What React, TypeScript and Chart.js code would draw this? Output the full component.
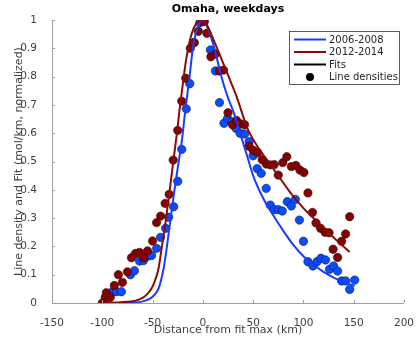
import React, { useEffect, useRef } from 'react';
import { Chart, registerables } from 'chart.js';
Chart.register(...registerables);

const chartTitle = 'Omaha, weekdays';
const xTitle = 'Distance from fit max (km)';
const yTitle = 'Line density and Fit (mol/km, normalized)';
const legendLabels = ['2006-2008', '2012-2014', 'Fits', 'Line densities'];

const xTicks = [-150, -100, -50, 0, 50, 100, 150, 200];
const xTickLabels = ['-150', '-100', '-50', '0', '50', '100', '150', '200'];
const yTicks = [0, 0.1, 0.2, 0.3, 0.4, 0.5, 0.6, 0.7, 0.8, 0.9, 1];
const yTickLabels = ['0', '0.1', '0.2', '0.3', '0.4', '0.5', '0.6', '0.7', '0.8', '0.9', '1'];

// 2006-2008 line densities
const blueX = [-96, -90, -86, -81, -72, -68, -63, -59, -55, -51, -46, -42, -37, -34, -29, -25, -21, -16.5, -13, -9, -3, 0, 7.5, 12.5, 16.5, 21, 24.5, 29, 33, 37, 41.5, 46, 50, 54, 58, 63, 67, 71, 75, 79, 84, 88, 92, 96, 100, 104.5, 109.5, 113.5, 117.5, 122, 126, 130, 134, 138, 142, 146, 151];
const blueY = [0, 0.04, 0.04, 0.04, 0.1, 0.114, 0.148, 0.15, 0.165, 0.168, 0.193, 0.232, 0.264, 0.303, 0.34, 0.43, 0.543, 0.686, 0.775, 0.92, 0.99, 1.0, 0.894, 0.82, 0.708, 0.635, 0.652, 0.64, 0.617, 0.6, 0.597, 0.57, 0.52, 0.475, 0.458, 0.405, 0.346, 0.33, 0.33, 0.325, 0.358, 0.343, 0.366, 0.293, 0.218, 0.146, 0.131, 0.146, 0.158, 0.152, 0.119, 0.131, 0.113, 0.078, 0.078, 0.048, 0.081];

// 2012-2014 line densities
const redX = [-100, -97, -96, -92, -88, -84, -80, -75, -71, -67, -63, -59, -55, -50, -46, -42, -37.5, -33.5, -29.5, -25, -21, -17, -12.5, -8.5, -4.5, -1, 1.5, 4, 8, 12.5, 16.5, 20.5, 25, 29.5, 33.5, 37.5, 41.5, 46, 50, 54.5, 59, 63, 67, 71, 75, 79.5, 83.5, 88, 92.5, 96.5, 100.5, 104.5, 109, 112.5, 117, 121.5, 125.5, 129.5, 134, 138, 142, 146];
const redY = [0, 0.02, 0.036, 0.02, 0.062, 0.1, 0.073, 0.11, 0.16, 0.175, 0.179, 0.16, 0.184, 0.219, 0.284, 0.307, 0.352, 0.384, 0.505, 0.61, 0.713, 0.794, 0.9, 0.92, 0.96, 0.995, 0.995, 0.953, 0.87, 0.88, 0.82, 0.823, 0.672, 0.63, 0.645, 0.633, 0.63, 0.554, 0.54, 0.532, 0.506, 0.491, 0.488, 0.489, 0.452, 0.496, 0.517, 0.482, 0.486, 0.47, 0.461, 0.389, 0.32, 0.283, 0.264, 0.25, 0.248, 0.19, 0.161, 0.218, 0.244, 0.305];

// Fits
const blueFitX = [-96, -80, -70, -62, -56, -50, -44, -39, -36, -32.5, -28, -24.5, -21, -18, -13, -10, -6.5, -3, 0, 5, 11.5, 18, 24.5, 31, 37, 44, 50, 60, 70, 80, 90, 100, 110, 120, 130, 140, 151];
const blueFitY = [0, 0, 0.001, 0.004, 0.01, 0.022, 0.052, 0.123, 0.193, 0.287, 0.405, 0.488, 0.57, 0.664, 0.806, 0.9, 0.96, 0.99, 1.0, 0.97, 0.9, 0.806, 0.73, 0.67, 0.6, 0.52, 0.45, 0.37, 0.31, 0.255, 0.205, 0.165, 0.135, 0.11, 0.09, 0.075, 0.06];
const redFitX = [-100, -85, -75, -67, -60, -55, -50.5, -47, -44, -41, -37, -32.7, -29.4, -26, -23, -19.6, -16.4, -11.5, -6.5, -2, 3, 11.5, 19.6, 27.7, 34, 44, 54, 67, 77, 87, 100, 110, 126, 146];
const redFitY = [0.001, 0.002, 0.004, 0.008, 0.018, 0.032, 0.055, 0.085, 0.123, 0.193, 0.287, 0.405, 0.5, 0.594, 0.688, 0.782, 0.865, 0.947, 0.988, 1.0, 0.988, 0.923, 0.853, 0.782, 0.725, 0.62, 0.555, 0.49, 0.44, 0.39, 0.335, 0.3, 0.245, 0.18];

const BLUE_LINE = '#1a3cff';
const BLUE_DOT = '#0a4cff';
const RED_LINE = '#8b0a0a';
const RED_DOT = '#870000';
const AXIS = '#a0a0a0';
const TEXT = '#404040';
const FONT = '"DejaVu Sans", sans-serif';

const pts = (xs: number[], ys: number[]) => xs.map((x, i) => ({ x, y: ys[i] }));

const decor = {
  id: 'decor',
  afterDraw(chart: any) {
    const { ctx, chartArea: ca, scales } = chart;
    const xs = scales.x;
    const ys = scales.y;
    ctx.save();
    // inward ticks
    ctx.strokeStyle = AXIS;
    ctx.lineWidth = 1;
    xTicks.forEach((v) => {
      const px = Math.round(xs.getPixelForValue(v)) + 0.5;
      ctx.beginPath();
      ctx.moveTo(px, ca.bottom);
      ctx.lineTo(px, ca.bottom - 3);
      ctx.stroke();
    });
    yTicks.forEach((v) => {
      const py = Math.round(ys.getPixelForValue(v)) + 0.5;
      ctx.beginPath();
      ctx.moveTo(ca.left, py);
      ctx.lineTo(ca.left + 3, py);
      ctx.stroke();
    });
    // title
    ctx.fillStyle = '#000';
    ctx.font = 'bold 11px ' + FONT;
    ctx.textAlign = 'center';
    ctx.textBaseline = 'middle';
    ctx.fillText(chartTitle, (ca.left + ca.right) / 2, 9);
    // legend
    const bx = 289.5, by = 31.5, bw = 110, bh = 53;
    ctx.fillStyle = '#fff';
    ctx.fillRect(bx, by, bw, bh);
    ctx.strokeStyle = '#333';
    ctx.lineWidth = 0.8;
    ctx.strokeRect(bx, by, bw, bh);
    const rows = [39.5, 52, 64.5, 77];
    const colors = [BLUE_LINE, RED_LINE, '#000', '#000'];
    ctx.font = '10px ' + FONT;
    ctx.textAlign = 'left';
    legendLabels.forEach((lab, i) => {
      const ry = rows[i];
      if (i < 3) {
        ctx.strokeStyle = colors[i];
        ctx.lineWidth = 2;
        ctx.beginPath();
        ctx.moveTo(294, ry);
        ctx.lineTo(326, ry);
        ctx.stroke();
      } else {
        ctx.fillStyle = '#000';
        ctx.beginPath();
        ctx.arc(310, ry, 4, 0, Math.PI * 2);
        ctx.fill();
      }
      ctx.fillStyle = '#262626';
      ctx.fillText(lab, 329, ry + 0.5);
    });
    ctx.restore();
  },
};

export default function App() {
  const ref = useRef<HTMLCanvasElement | null>(null);
  useEffect(() => {
    document.body.style.margin = '0';
    const canvas = ref.current;
    if (!canvas) return;
    const chart = new Chart(canvas, {
      type: 'scatter',
      data: {
        datasets: [
          {
            label: legendLabels[1] + ' fit',
            data: pts(redFitX, redFitY),
            showLine: true,
            borderColor: RED_LINE,
            borderWidth: 2,
            pointRadius: 0,
            cubicInterpolationMode: 'monotone',
            fill: false,
          },
          {
            label: legendLabels[0] + ' fit',
            data: pts(blueFitX, blueFitY),
            showLine: true,
            borderColor: BLUE_LINE,
            borderWidth: 2,
            pointRadius: 0,
            cubicInterpolationMode: 'monotone',
            fill: false,
          },
          {
            label: legendLabels[1],
            data: pts(redX, redY),
            pointRadius: 4.2,
            pointBackgroundColor: RED_DOT,
            pointBorderColor: '#2a1010',
            pointBorderWidth: 0.6,
          },
          {
            label: legendLabels[0],
            data: pts(blueX, blueY),
            pointRadius: 4.2,
            pointBackgroundColor: BLUE_DOT,
            pointBorderColor: '#10183a',
            pointBorderWidth: 0.6,
          },
        ],
      } as any,
      options: {
        responsive: false,
        animation: false,
        layout: { padding: { top: 20, right: 11, left: 0, bottom: 0 } },
        plugins: { legend: { display: false }, tooltip: { enabled: false }, title: { display: false } },
        scales: {
          x: {
            type: 'linear',
            min: -150,
            max: 200,
            afterBuildTicks: (s: any) => { s.ticks = xTicks.map((v) => ({ value: v })); },
            afterFit: (s: any) => { s.height = 40; },
            ticks: {
              color: TEXT,
              font: { family: FONT, size: 10.5 },
              padding: 6,
              maxRotation: 0,
              callback: (v: any) => { const i = xTicks.indexOf(Number(v)); return i >= 0 ? xTickLabels[i] : ''; },
            },
            grid: { display: false },
            border: { display: true, color: AXIS, width: 1 },
            title: { display: true, text: xTitle, color: TEXT, font: { family: FONT, size: 11 }, padding: { top: 0, bottom: 6 } },
          },
          y: {
            type: 'linear',
            min: 0,
            max: 1,
            afterBuildTicks: (s: any) => { s.ticks = yTicks.map((v) => ({ value: v })); },
            afterFit: (s: any) => { s.width = 52; },
            ticks: {
              color: TEXT,
              font: { family: FONT, size: 10.5 },
              padding: 7,
              callback: (v: any) => { const i = yTicks.findIndex((t) => Math.abs(t - Number(v)) < 1e-9); return i >= 0 ? yTickLabels[i] : ''; },
            },
            grid: { display: false },
            border: { display: true, color: AXIS, width: 1 },
            title: { display: true, text: yTitle, color: TEXT, font: { family: FONT, size: 11 }, padding: { top: 13, bottom: 0 } },
          },
        },
      } as any,
      plugins: [decor],
    });
    return () => chart.destroy();
  }, []);
  return (
    <div style={{ position: 'fixed', left: 0, top: 0, width: 420, height: 343, background: '#fff' }}>
      <canvas ref={ref} width={420} height={343} />
    </div>
  );
}
